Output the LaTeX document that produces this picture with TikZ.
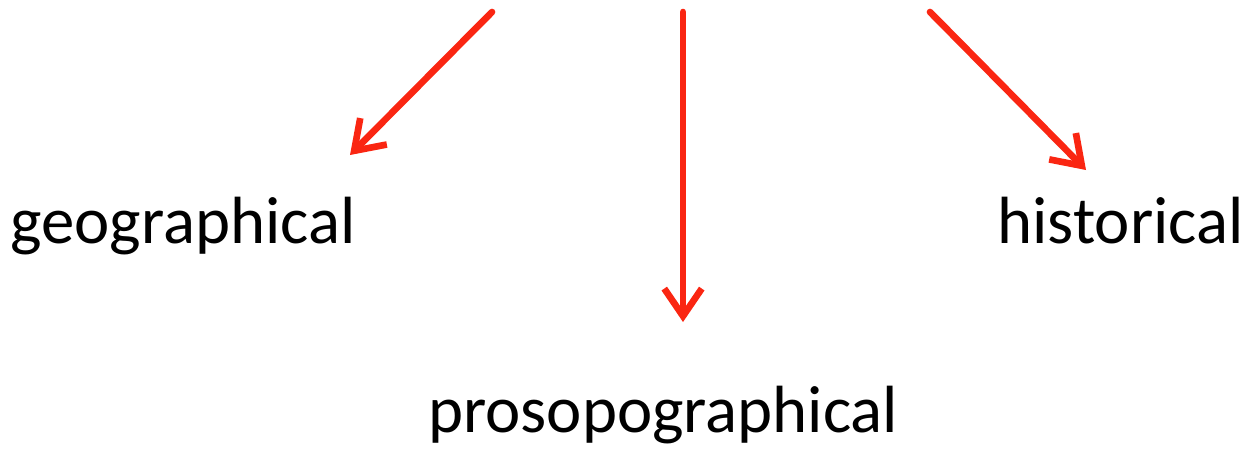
\documentclass[tikz,border=0pt]{standalone}
\usepackage{fontspec}
\setmainfont{Carlito}
\usetikzlibrary{arrows.meta,positioning}
\definecolor{inkred}{RGB}{250,38,18}

\begin{document}
\begin{tikzpicture}[
    x=0.02cm, y=-0.02cm,
    term/.style={inner sep=0pt, font=\fontsize{38}{40}\selectfont},
    arrow/.style={-{Straight Barb[length=5.5mm, width=7.5mm]}, line width=3.8pt, inkred, line cap=round}
]
\useasboundingbox (0,0) rectangle (1243,454);

% Labels
\node[term, anchor=base west] (geo) at (10,243) {geographical};
\node[term, anchor=base west] (hist) at (997,243) {historical};
\node[term, anchor=base west] (proso) at (428,432) {prosopographical};

% Arrow ends
\coordinate (srcL) at (492,12);
\coordinate (tipL) at (350,155);
\coordinate (srcM) at (683,12);
\coordinate (tipM) at (683,322);
\coordinate (srcR) at (930,12);
\coordinate (tipR) at (1086,170);

\draw[arrow] (srcL) -- (tipL);
\draw[arrow] (srcM) -- (tipM);
\draw[arrow] (srcR) -- (tipR);

\end{tikzpicture}
\end{document}
